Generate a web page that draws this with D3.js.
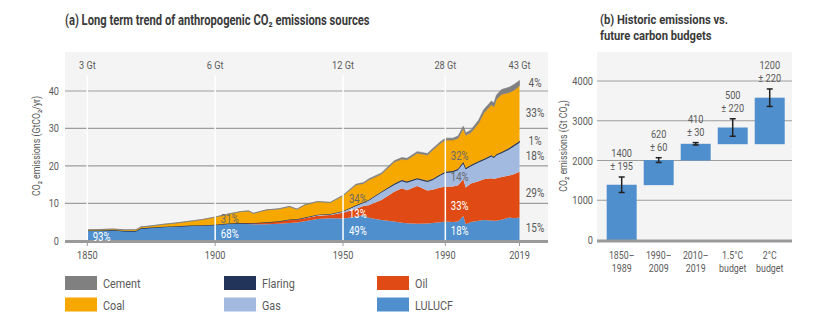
<!DOCTYPE html>
<html><head><meta charset="utf-8">
<script src="https://cdn.jsdelivr.net/npm/d3@7"></script>
<style>
html,body{margin:0;padding:0;background:#fff;}
svg{display:block;font-family:Roboto,"Liberation Sans",sans-serif;}
</style></head>
<body>
<svg id="c" width="825" height="326"></svg>
<script>
// ---------- DATA ----------
const years   = [1850,1855,1860,1865,1869,1871,1875,1880,1885,1890,1895,1900,1905,1910,1913,1915,1920,1925,1929,1932,1935,1940,1945,1950,1955,1958,1960,1965,1970,1973,1975,1979,1983,1985,1988,1990,1993,1995,1997,1998,2000,2003,2005,2008,2009,2010,2012,2015,2017,2019];
const lulucf  = [2.70,2.75,2.85,2.60,2.60,3.30,3.50,3.75,3.85,4.00,4.10,4.20,4.45,4.45,4.45,4.40,4.40,4.50,4.70,4.85,5.20,5.80,6.00,5.90,6.40,6.90,6.10,5.50,5.10,4.80,4.65,4.50,4.60,4.70,4.90,5.10,5.00,5.10,6.60,4.40,5.00,5.30,5.50,5.40,5.30,5.35,5.60,6.20,6.00,6.20];
const oil     = [0,0,0,0,0,0,0,0.01,0.02,0.03,0.04,0.06,0.10,0.20,0.25,0.28,0.45,0.60,0.80,0.72,0.80,0.90,0.85,1.56,2.10,2.40,3.40,5.40,8.00,9.20,8.85,10.10,8.80,8.90,9.30,9.30,9.50,9.70,9.80,9.80,10.30,10.60,10.90,11.30,11.20,11.35,11.40,11.20,11.80,12.20];
const gas     = [0,0,0,0,0,0,0,0,0,0.01,0.01,0.02,0.03,0.05,0.06,0.06,0.08,0.10,0.15,0.15,0.18,0.25,0.30,0.40,0.90,0.90,1.30,2.10,1.90,2.00,2.10,1.90,2.40,2.70,3.30,3.80,3.90,4.20,4.40,5.00,4.70,5.10,5.20,5.90,5.70,6.20,6.50,7.10,7.60,7.90];
const flaring = [0,0,0,0,0,0,0,0,0,0,0,0,0,0,0,0,0,0,0,0,0,0.01,0.01,0.04,0.05,0.06,0.10,0.10,0.20,0.20,0.20,0.20,0.20,0.20,0.20,0.20,0.20,0.20,0.20,0.20,0.20,0.20,0.20,0.20,0.20,0.20,0.20,0.30,0.30,0.30];
const coal    = [0.22,0.23,0.27,0.28,0.32,0.38,0.45,0.64,0.88,1.16,1.50,2.02,2.52,3.05,3.19,2.56,3.27,3.30,3.45,2.68,3.37,3.44,3.04,4.10,5.45,5.04,5.30,4.70,5.80,5.60,5.80,6.70,6.90,7.70,8.30,8.50,8.30,8.20,9.00,8.80,8.70,10.20,12.30,13.50,13.40,14.70,15.40,14.80,14.60,14.80];
const cement  = [0.03,0.02,0.03,0.02,0.03,0.02,0.03,0.02,0.03,0.03,0.03,0.03,0.04,0.05,0.05,0.05,0.05,0.07,0.10,0.07,0.08,0.10,0.08,0.15,0.20,0.25,0.30,0.30,0.35,0.40,0.40,0.40,0.40,0.40,0.40,0.50,0.50,0.60,0.60,0.60,0.70,0.80,0.90,1.00,1.00,1.10,1.30,1.40,1.50,1.40];

const seriesNames  = ["LULUCF","Oil","Gas","Flaring","Coal","Cement"];
const seriesColors = ["#4f8fcd","#e04a14","#a2b9e0","#22345a","#f7a800","#808080"];

const gtYears  = [1850,1900,1950,1990,2019];
const gtLabels = ["3 Gt","6 Gt","12 Gt","28 Gt","43 Gt"];
const xTickYears = [1850,1900,1950,1990,2019];
const yTicksA = [0,10,20,30,40];

// in-area share labels: [text, year, value, light?]
const shareLabels = [
  ["93%",1855.6,1.1,true],["68%",1905.7,1.9,true],["31%",1905.7,5.9,false],
  ["34%",1955.8,11.1,false],["13%",1955.8,7.2,true],["49%",1955.8,2.7,true],
  ["32%",1995.6,22.6,false],["14%",1995.6,17.1,false],["33%",1995.6,9.3,true],["18%",1995.6,2.6,true]
];
const rightShares = [["4%",42.2],["33%",34.1],["1%",26.7],["18%",22.6],["29%",12.75],["15%",3.4]];

// panel b
const budgetCats   = [["1850–","1989"],["1990–","2009"],["2010–","2019"],["1.5°C","budget"],["2°C","budget"]];
const budgetBase   = [0,1380,2000,2410,2410];
const budgetTop    = [1390,2010,2420,2830,3580];
const budgetErr    = [195,60,30,220,220];
const budgetValLbl = ["1400","620","410","500","1200"];
const budgetErrLbl = ["± 195","± 60","± 30","± 220","± 220"];
const yTicksB = [0,1000,2000,3000,4000];

const legendItems = [["Cement","#808080"],["Flaring","#22345a"],["Oil","#e04a14"],["Coal","#f7a800"],["Gas","#a2b9e0"],["LULUCF","#4f8fcd"]];

// ---------- DRAW ----------
const svg = d3.select("#c");
const txt = "#5a5a5a";
const SX = 0.8;
function T(parent, x, y, s, o={}){
  const g = parent.append("g").attr("transform",`translate(${x},${y})${o.rot?` rotate(${o.rot})`:""} scale(${o.sx||SX},1)`);
  return g.append("text").attr("x",0).attr("y",0)
    .attr("text-anchor",o.anchor||"start").attr("font-size",o.size||11.5)
    .attr("font-weight",o.weight||"normal").attr("fill",o.fill||txt).text(s);
}

// Panel A
const x = d3.scaleLinear().domain([1850,2019]).range([87.3,519.5]);
const y = d3.scaleLinear().domain([0,40]).range([240.7,91]);

svg.append("rect").attr("x",65).attr("y",52).attr("width",483).attr("height",189).attr("fill","#f4f4f4");
T(svg,65,25,"(a) Long term trend of anthropogenic CO₂ emissions sources",{size:14,weight:"bold",fill:"#3a3a3a",sx:0.8});

svg.append("g").selectAll("line").data(yTicksA.filter(d=>d>0)).join("line")
  .attr("x1",65).attr("x2",548).attr("y1",d=>y(d)).attr("y2",d=>y(d))
  .attr("stroke","#9d9d9d").attr("stroke-width",1.2);

const table = years.map((yr,i)=>({year:yr,LULUCF:lulucf[i],Oil:oil[i],Gas:gas[i],Flaring:flaring[i],Coal:coal[i],Cement:cement[i]}));
const stacked = d3.stack().keys(seriesNames)(table);
const area = d3.area().x(d=>x(d.data.year)).y0(d=>y(d[0])).y1(d=>y(d[1]));
svg.append("g").selectAll("path").data(stacked).join("path")
  .attr("d",area)
  .attr("fill",(d,i)=>seriesColors[i])
  .attr("stroke",(d,i)=>seriesNames[i]==="Flaring"?"#22345a":(seriesNames[i]==="Cement"?"#7a7a7a":"none"))
  .attr("stroke-width",(d,i)=>seriesNames[i]==="Flaring"?0.9:0.6);

svg.append("g").selectAll("line").data(gtYears.slice(0,4)).join("line")
  .attr("x1",d=>x(d)).attr("x2",d=>x(d)).attr("y1",75).attr("y2",240)
  .attr("stroke","#ffffff").attr("stroke-width",1.5);

svg.append("line").attr("x1",65).attr("x2",548).attr("y1",241.5).attr("y2",241.5).attr("stroke","#9a9a9a").attr("stroke-width",3);
svg.append("g").selectAll("line").data(xTickYears).join("line")
  .attr("x1",d=>x(d)).attr("x2",d=>x(d)).attr("y1",243).attr("y2",246).attr("stroke","#9a9a9a").attr("stroke-width",1);

gtYears.forEach((d,i)=>T(svg,x(d),69,gtLabels[i],{anchor:"middle"}));
yTicksA.forEach(d=>T(svg,59,y(d)+4,String(d),{anchor:"end"}));
xTickYears.forEach(d=>T(svg,x(d),259,String(d),{anchor:"middle"}));
T(svg,40,146,"CO₂ emissions (GtCO₂/yr)",{anchor:"middle",rot:-90,size:11});

shareLabels.forEach(d=>T(svg,x(d[1]),y(d[2])+4,d[0],{anchor:"middle",size:12,fill:d[3]?"#ffffff":"#6a6a6a"}));
rightShares.forEach(d=>T(svg,535,y(d[1])+4,d[0],{anchor:"middle",size:12.5}));

// Panel B
const xb = d3.scaleBand().domain(d3.range(budgetCats.length)).range([597,794.4]).paddingInner(0.19).paddingOuter(0.262);
const yb = d3.scaleLinear().domain([0,4000]).range([240,81]);

svg.append("rect").attr("x",597).attr("y",52).attr("width",195).attr("height",189).attr("fill","#f4f4f4");
T(svg,600,24,"(b) Historic emissions vs.",{size:13.5,weight:"bold",fill:"#3a3a3a",sx:0.83});
T(svg,600,40,"future carbon budgets",{size:13.5,weight:"bold",fill:"#3a3a3a",sx:0.83});

svg.append("g").selectAll("line").data(yTicksB.filter(d=>d>0)).join("line")
  .attr("x1",597).attr("x2",792).attr("y1",d=>yb(d)).attr("y2",d=>yb(d)).attr("stroke","#9d9d9d").attr("stroke-width",1.2);

svg.append("g").selectAll("rect").data(budgetTop).join("rect")
  .attr("x",(d,i)=>xb(i)).attr("width",xb.bandwidth())
  .attr("y",d=>yb(d)).attr("height",(d,i)=>yb(budgetBase[i])-yb(d)).attr("fill","#4f8fcd");

svg.append("line").attr("x1",597).attr("x2",792).attr("y1",241).attr("y2",241).attr("stroke","#9a9a9a").attr("stroke-width",3);

const eb = svg.append("g").attr("stroke","#222").attr("stroke-width",1.5);
budgetTop.forEach((t,i)=>{
  const cx = xb(i)+xb.bandwidth()/2;
  eb.append("line").attr("x1",cx).attr("x2",cx).attr("y1",yb(t+budgetErr[i])).attr("y2",yb(t-budgetErr[i]));
  eb.append("line").attr("x1",cx-3).attr("x2",cx+3).attr("y1",yb(t+budgetErr[i])).attr("y2",yb(t+budgetErr[i]));
  eb.append("line").attr("x1",cx-3).attr("x2",cx+3).attr("y1",yb(t-budgetErr[i])).attr("y2",yb(t-budgetErr[i]));
  T(svg,cx,yb(t+budgetErr[i])-20,budgetValLbl[i],{anchor:"middle",size:11.5});
  T(svg,cx,yb(t+budgetErr[i])-7,budgetErrLbl[i],{anchor:"middle",size:11.5});
  T(svg,cx,259,budgetCats[i][0],{anchor:"middle",size:11});
  T(svg,cx,272,budgetCats[i][1],{anchor:"middle",size:11});
});

yTicksB.forEach(d=>T(svg,593,yb(d)+4,String(d),{anchor:"end"}));
T(svg,567,146,"CO₂ emissions (Gt CO₂)",{anchor:"middle",rot:-90,size:11});

const lg = svg.append("g");
const colX = [65,224,377];
legendItems.forEach((it,i)=>{
  const c = i%3, r = Math.floor(i/3);
  lg.append("rect").attr("x",colX[c]).attr("y",276+r*21.5).attr("width",32).attr("height",14).attr("fill",it[1]);
  T(lg,colX[c]+38,288+r*21.5,it[0],{size:13.5});
});
</script>
</body></html>
